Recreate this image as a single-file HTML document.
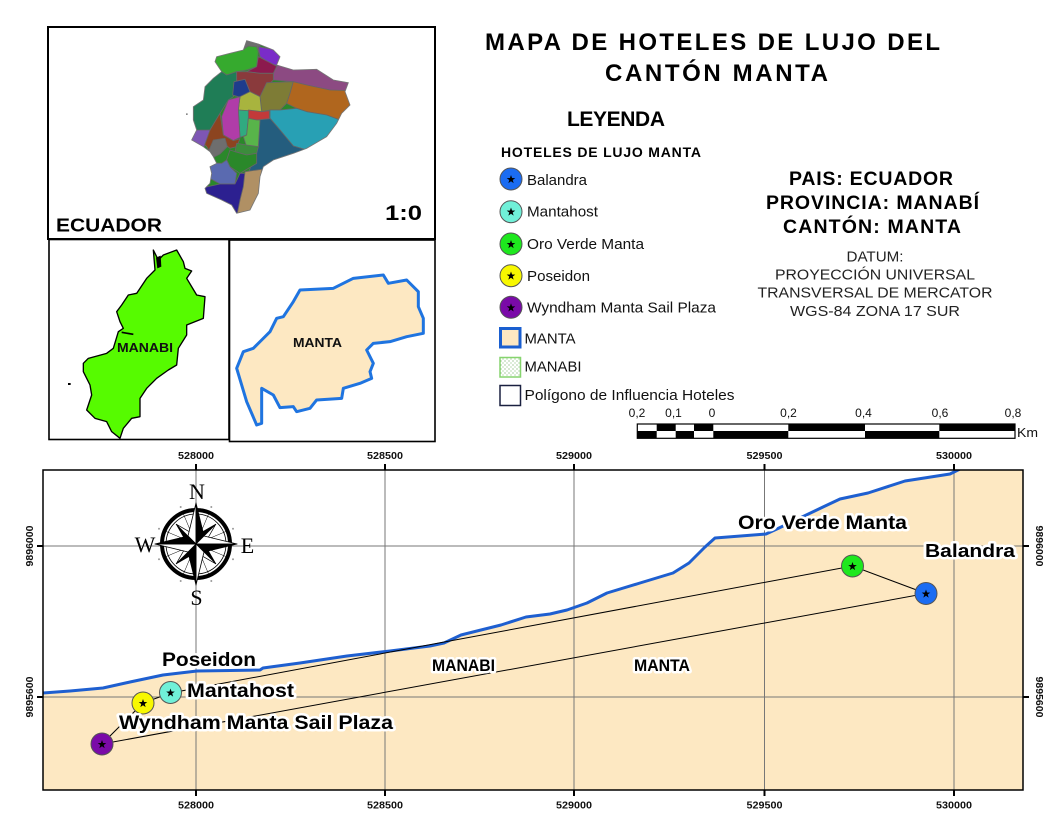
<!DOCTYPE html>
<html>
<head>
<meta charset="utf-8">
<style>
  html,body{margin:0;padding:0;background:#fff;}
  svg{display:block;}
  text{font-family:"Liberation Sans",Arial,sans-serif;}
  text.serif{font-family:"Liberation Serif","Times New Roman",serif;}
  .b{font-weight:bold;}
  .halo{paint-order:stroke;stroke:#fff;stroke-width:5;stroke-linejoin:round;}
</style>
</head>
<body>
<svg width="1056" height="816" viewBox="0 0 1056 816" xmlns="http://www.w3.org/2000/svg">
  <defs>
    <path id="star" d="M0,-4.5 L1.06,-1.46 L4.28,-1.39 L1.71,0.56 L2.65,3.64 L0,1.8 L-2.65,3.64 L-1.71,0.56 L-4.28,-1.39 L-1.06,-1.46 Z" fill="#000"/>
    <pattern id="dots" width="4" height="4" patternUnits="userSpaceOnUse">
      <rect width="4" height="4" fill="#fff"/>
      <rect x="0.5" y="0.5" width="1" height="1" fill="#5a9a4a"/>
      <rect x="2.5" y="2.5" width="1" height="1" fill="#7aba6a"/>
    </pattern>
    <clipPath id="ec">
      <path d="M620,62 L655,72 L700,90 L720,110 L710,135 L760,150 L830,148 L880,180 L925,188 L915,215 L930,255 L905,280 L890,310 L860,350 L800,385 L760,400 L700,420 L670,440 L660,470 L655,520 L630,570 L590,580 L575,555 L545,540 L500,520 L495,505 L510,490 L515,460 L510,440 L530,430 L520,410 L510,395 L490,380 L455,360 L470,330 L460,300 L460,260 L490,240 L495,200 L520,175 L545,155 L525,125 L530,110 L570,100 L610,90 Z"/>
    </clipPath>
    <clipPath id="mapclip">
      <rect x="43" y="470" width="980" height="320"/>
    </clipPath>
  </defs>

  <!-- ================= TOP-LEFT INSET (ECUADOR) ================= -->
  <rect x="48" y="27" width="387" height="212" fill="#fff" stroke="#000" stroke-width="2"/>
  <g transform="translate(40,20) scale(0.33333)">
    <g clip-path="url(#ec)" stroke="#666" stroke-width="2.5" stroke-linejoin="round">
      <rect x="400" y="40" width="560" height="560" fill="#2a882a" stroke="none"/>
      <polygon fill="#6e6e6e" points="600,50 660,50 660,95 600,95"/>
      <polygon fill="#36aa2e" points="520,110 570,95 610,88 625,78 650,80 655,95 650,140 620,150 590,155 560,165 545,155 520,125"/>
      <polygon fill="#7a2cc8" points="655,80 700,88 725,112 712,137 690,130 660,110"/>
      <polygon fill="#8c1a4e" points="655,110 690,128 712,140 700,160 660,160 620,155 650,140"/>
      <polygon fill="#8c4a82" points="712,135 760,148 830,146 880,178 935,186 920,215 870,210 800,195 760,185 700,180 700,160"/>
      <polygon fill="#1f7d56" points="545,155 560,165 590,155 590,180 580,230 565,240 540,280 510,330 450,335 440,300 440,255 480,235 490,200 515,170"/>
      <polygon fill="#8a3a3c" points="590,155 620,155 660,160 700,160 700,180 680,200 660,230 630,215 600,225 590,180"/>
      <polygon fill="#1e3c8c" points="582,185 615,178 630,215 600,232 578,225"/>
      <polygon fill="#7e7c36" points="680,188 760,185 750,220 740,250 720,270 690,270 665,275 660,230"/>
      <polygon fill="#b0661e" points="760,185 800,195 870,210 935,212 945,255 900,300 860,285 800,275 770,265 740,250 750,220"/>
      <polygon fill="#28a0b4" points="690,270 720,270 770,265 800,275 860,285 900,300 890,315 860,355 800,390 760,378 720,330 690,295"/>
      <polygon fill="#245d7e" points="650,300 690,295 720,330 760,378 800,390 760,405 700,425 670,445 662,475 620,472 640,420 655,380"/>
      <polygon fill="#a8b43e" points="600,230 630,215 660,230 665,275 630,275 595,270"/>
      <polygon fill="#c23a3a" points="625,270 665,275 688,272 688,296 650,300 625,295"/>
      <polygon fill="#30aa80" points="595,270 625,272 625,295 620,345 600,352"/>
      <polygon fill="#58b44a" points="625,295 650,300 660,300 655,380 620,380 610,350 620,345"/>
      <polygon fill="#b03ca8" points="565,240 600,230 595,270 600,352 580,362 550,345 545,290"/>
      <polygon fill="#8c4420" points="540,280 550,345 580,362 600,356 590,380 570,385 550,370 540,395 520,412 500,380 490,370 510,330"/>
      <polygon fill="#7e56b4" points="440,360 455,330 510,330 495,372 490,390"/>
      <polygon fill="#6e6e6e" points="520,360 555,355 562,380 540,402 520,412 505,395"/>
      <polygon fill="#3c8c3c" points="590,370 620,375 655,380 650,400 620,405 585,395"/>
      <polygon fill="#2a882a" points="570,390 585,395 620,405 650,400 650,430 620,448 600,460 570,440 560,420"/>
      <polygon fill="#5a6ab0" points="505,428 545,430 560,420 570,440 590,460 585,492 540,492 500,470"/>
      <polygon fill="#2c2090" points="480,505 540,492 585,492 600,460 615,460 610,520 600,560 590,590 570,560 540,545 480,525"/>
      <polygon fill="#b09064" points="615,455 665,448 665,470 660,520 635,575 590,590 600,540 610,500"/>
    </g>
    <path d="M620,62 L655,72 L700,90 L720,110 L710,135 L760,150 L830,148 L880,180 L925,188 L915,215 L930,255 L905,280 L890,310 L860,350 L800,385 L760,400 L700,420 L670,440 L660,470 L655,520 L630,570 L590,580 L575,555 L545,540 L500,520 L495,505 L510,490 L515,460 L510,440 L530,430 L520,410 L510,395 L490,380 L455,360 L470,330 L460,300 L460,260 L490,240 L495,200 L520,175 L545,155 L525,125 L530,110 L570,100 L610,90 Z" fill="none" stroke="#777" stroke-width="2.5"/>
    <rect x="438" y="280" width="5" height="5" fill="#888"/>
  </g>
  <text class="b" x="56" y="231.5" font-size="18" textLength="106" lengthAdjust="spacingAndGlyphs" fill="#000">ECUADOR</text>
  <text class="b" x="385" y="220" font-size="21" textLength="37" lengthAdjust="spacingAndGlyphs" fill="#000">1:0</text>

  <!-- ================= MANABI INSET ================= -->
  <rect x="49" y="239.5" width="180" height="200" fill="#fff" stroke="#000" stroke-width="1.6"/>
  <g transform="translate(40,235) scale(0.33333)">
    <path d="M340,45 L355,75 L370,60 L410,45 L430,80 L435,100 L455,108 L440,130 L470,180 L495,185 L490,250 L440,270 L440,300 L415,340 L410,390 L385,405 L350,430 L320,460 L300,490 L300,545 L275,550 L250,580 L240,610 L215,590 L200,560 L165,550 L140,525 L155,480 L150,450 L130,410 L130,385 L145,370 L200,355 L220,340 L235,290 L250,280 L240,260 L230,230 L245,210 L265,180 L290,175 L320,130 L345,105 Z" fill="#56fb00" stroke="#000" stroke-width="4" stroke-linejoin="round"/>
    <polygon points="348,68 362,62 364,95 352,100" fill="#000"/>
    <path d="M245,292 L280,298" stroke="#000" stroke-width="5"/>
    <rect x="84" y="444" width="8" height="6" fill="#000"/>
  </g>
  <text class="b" x="117" y="352" font-size="12.5" textLength="56" lengthAdjust="spacingAndGlyphs" fill="#111">MANABI</text>

  <!-- ================= MANTA INSET ================= -->
  <rect x="229.5" y="240" width="205.5" height="201.5" fill="#fff" stroke="#000" stroke-width="1.6"/>
  <g transform="translate(40,235) scale(0.33333)">
    <path d="M590,400 L610,350 L640,340 L665,315 L690,290 L710,250 L730,245 L760,200 L780,165 L880,160 L940,130 L1030,120 L1045,145 L1100,135 L1135,170 L1135,215 L1150,250 L1150,295 L1100,305 L1050,320 L1000,325 L980,345 L1000,385 L990,410 L995,430 L960,445 L910,460 L905,490 L830,495 L810,520 L770,530 L760,515 L720,518 L700,480 L665,460 L665,565 L650,570 L620,500 Z" fill="#fde8c2" stroke="#1f74e0" stroke-width="9" stroke-linejoin="round"/>
  </g>
  <text class="b" x="293" y="347" font-size="12.5" textLength="49" lengthAdjust="spacingAndGlyphs" fill="#111">MANTA</text>

  <!-- ================= TITLE ================= -->
  <text class="b" x="485" y="50" font-size="24" textLength="455" lengthAdjust="spacing" fill="#000">MAPA DE HOTELES DE LUJO DEL</text>
  <text class="b" x="605" y="81" font-size="24" textLength="223" lengthAdjust="spacing" fill="#000">CANTÓN MANTA</text>

  <!-- ================= LEGEND ================= -->
  <text class="b" x="567" y="126" font-size="21" textLength="98" lengthAdjust="spacing" fill="#000">LEYENDA</text>
  <text class="b" x="501" y="157" font-size="14" textLength="200" lengthAdjust="spacing" fill="#000">HOTELES DE LUJO MANTA</text>

  <g stroke="#555" stroke-width="1">
    <circle cx="511" cy="179" r="11" fill="#1b6cf2"/>
    <circle cx="511" cy="211.7" r="11" fill="#70f0d8"/>
    <circle cx="511" cy="244" r="11" fill="#1ee81e"/>
    <circle cx="511" cy="275.7" r="11" fill="#f8f800"/>
    <circle cx="511" cy="307.3" r="11" fill="#7a0aa8"/>
  </g>
  <use href="#star" x="511" y="179.5"/>
  <use href="#star" x="511" y="212"/>
  <use href="#star" x="511" y="244.5"/>
  <use href="#star" x="511" y="276"/>
  <use href="#star" x="511" y="307.8"/>
  <g font-size="15" fill="#111">
    <text x="527" y="185" textLength="60" lengthAdjust="spacingAndGlyphs">Balandra</text>
    <text x="527" y="216.7" textLength="71" lengthAdjust="spacingAndGlyphs">Mantahost</text>
    <text x="527" y="249" textLength="117" lengthAdjust="spacingAndGlyphs">Oro Verde Manta</text>
    <text x="527" y="281" textLength="63" lengthAdjust="spacingAndGlyphs">Poseidon</text>
    <text x="527" y="312.7" textLength="189" lengthAdjust="spacingAndGlyphs">Wyndham Manta Sail Plaza</text>
    <text x="524.5" y="343.3" textLength="51" lengthAdjust="spacingAndGlyphs">MANTA</text>
    <text x="524.5" y="371.7" textLength="57" lengthAdjust="spacingAndGlyphs">MANABI</text>
    <text x="524.5" y="400" textLength="210" lengthAdjust="spacingAndGlyphs">Polígono de Influencia Hoteles</text>
  </g>
  <rect x="500.5" y="328.5" width="19.5" height="18.5" fill="#fde8c2" stroke="#1a5fd0" stroke-width="3"/>
  <rect x="500" y="357.5" width="20.5" height="19.5" fill="url(#dots)" stroke="#86d46e" stroke-width="1.5"/>
  <rect x="500" y="385.5" width="20.5" height="20" fill="#fff" stroke="#1a2040" stroke-width="1.5"/>

  <!-- ================= RIGHT INFO BLOCK ================= -->
  <g class="b" font-size="19.5" fill="#000" text-anchor="middle">
    <text x="871" y="185" textLength="164" lengthAdjust="spacing">PAIS: ECUADOR</text>
    <text x="872.5" y="209" textLength="213" lengthAdjust="spacing">PROVINCIA: MANABÍ</text>
    <text x="872" y="233" textLength="178" lengthAdjust="spacing">CANTÓN: MANTA</text>
  </g>
  <g font-size="15" fill="#222" text-anchor="middle">
    <text x="875" y="261.5" textLength="57" lengthAdjust="spacingAndGlyphs">DATUM:</text>
    <text x="875" y="279.5" textLength="200" lengthAdjust="spacingAndGlyphs">PROYECCIÓN UNIVERSAL</text>
    <text x="875" y="297.7" textLength="235" lengthAdjust="spacingAndGlyphs">TRANSVERSAL DE MERCATOR</text>
    <text x="875" y="316" textLength="170" lengthAdjust="spacingAndGlyphs">WGS-84 ZONA 17 SUR</text>
  </g>

  <!-- ================= SCALE BAR ================= -->
  <g font-size="12" fill="#111" text-anchor="middle">
    <text x="637" y="417">0,2</text>
    <text x="673.5" y="417">0,1</text>
    <text x="712" y="417">0</text>
    <text x="788.5" y="417">0,2</text>
    <text x="863.5" y="417">0,4</text>
    <text x="940" y="417">0,6</text>
    <text x="1013" y="417">0,8</text>
  </g>
  <g>
    <rect x="637.3" y="424" width="377.7" height="14.3" fill="#fff"/>
    <rect x="656.7" y="424" width="19" height="7" fill="#000"/>
    <rect x="694" y="424" width="19.3" height="7" fill="#000"/>
    <rect x="788.3" y="424" width="76.7" height="7" fill="#000"/>
    <rect x="939.3" y="424" width="75.7" height="7" fill="#000"/>
    <rect x="637.3" y="431" width="19.4" height="7.3" fill="#000"/>
    <rect x="675.7" y="431" width="18.3" height="7.3" fill="#000"/>
    <rect x="713.3" y="431" width="75" height="7.3" fill="#000"/>
    <rect x="865" y="431" width="74.3" height="7.3" fill="#000"/>
    <rect x="637.3" y="424" width="377.7" height="14.3" fill="none" stroke="#000" stroke-width="1.2"/>
  </g>
  <text x="1017" y="437" font-size="13" fill="#111" textLength="21" lengthAdjust="spacingAndGlyphs">Km</text>

  <!-- ================= MAIN MAP ================= -->
  <g clip-path="url(#mapclip)">
    <rect x="43" y="470" width="980" height="320" fill="#fff"/>
    <path d="M43,693 L70,691 L103,688 L130,682 L163,675 L197,671 L260,670 L263,668 L300,663 L347,656 L390,651 L430,646 L444,643 L461,635 L501,625 L526,617 L550,614 L567,610 L587,603 L607,593 L640,583 L673,573 L689,563 L705,547 L715,538 L766,534 L779,528 L800,518 L823,507 L840,499 L868,493 L905,481 L950,474 L960,469 L1030,465 L1030,800 L40,800 L40,693 Z" fill="#fde8c2"/>
    <g stroke="#777" stroke-width="1">
      <line x1="196" y1="470" x2="196" y2="790"/>
      <line x1="385" y1="470" x2="385" y2="790"/>
      <line x1="574" y1="470" x2="574" y2="790"/>
      <line x1="764.5" y1="470" x2="764.5" y2="790"/>
      <line x1="954" y1="470" x2="954" y2="790"/>
      <line x1="43" y1="546" x2="1023" y2="546"/>
      <line x1="43" y1="697" x2="1023" y2="697"/>
    </g>
    <path d="M43,693 L70,691 L103,688 L130,682 L163,675 L197,671 L260,670 L263,668 L300,663 L347,656 L390,651 L430,646 L444,643 L461,635 L501,625 L526,617 L550,614 L567,610 L587,603 L607,593 L640,583 L673,573 L689,563 L705,547 L715,538 L766,534 L779,528 L800,518 L823,507 L840,499 L868,493 L905,481 L950,474 L960,469" fill="none" stroke="#1e5fd0" stroke-width="3" stroke-linejoin="round"/>
    <polygon points="102,744 143,703 170.5,693 852.5,566 926,593.5" fill="none" stroke="#000" stroke-width="1"/>
    <g stroke="#555" stroke-width="1">
      <circle cx="926" cy="593.5" r="11" fill="#1b6cf2"/>
      <circle cx="852.5" cy="566" r="11" fill="#1ee81e"/>
      <circle cx="170.5" cy="692.5" r="11" fill="#70f0d8"/>
      <circle cx="143" cy="703" r="11" fill="#f8f800"/>
      <circle cx="102" cy="744" r="11" fill="#7a0aa8"/>
    </g>
    <use href="#star" x="926" y="594"/>
    <use href="#star" x="852.5" y="566.5"/>
    <use href="#star" x="170.5" y="693"/>
    <use href="#star" x="143" y="703.5"/>
    <use href="#star" x="102" y="744.5"/>
    <g class="b halo" fill="#000">
      <text class="b halo" x="162" y="666" font-size="19.5" textLength="94" lengthAdjust="spacingAndGlyphs">Poseidon</text>
      <text class="b halo" x="187" y="697" font-size="19.5" textLength="107" lengthAdjust="spacingAndGlyphs">Mantahost</text>
      <text class="b halo" x="119" y="729" font-size="19.5" textLength="274" lengthAdjust="spacingAndGlyphs">Wyndham Manta Sail Plaza</text>
      <text class="b halo" x="738" y="529" font-size="19.5" textLength="169" lengthAdjust="spacingAndGlyphs">Oro Verde Manta</text>
      <text class="b halo" x="925" y="557" font-size="18.5" textLength="90" lengthAdjust="spacingAndGlyphs">Balandra</text>
      <text class="b halo" x="432" y="671" font-size="16.5" textLength="63" lengthAdjust="spacingAndGlyphs">MANABI</text>
      <text class="b halo" x="634" y="671" font-size="16.5" textLength="56" lengthAdjust="spacingAndGlyphs">MANTA</text>
    </g>

    <!-- compass rose -->
    <g transform="translate(196,544)">
      <circle r="34" fill="none" stroke="#000" stroke-width="4"/>
      <circle r="30" fill="none" stroke="#000" stroke-width="0.8"/>
      <g fill="#999">
        <circle cx="15.3" cy="-37" r="1"/><circle cx="37" cy="-15.3" r="1"/>
        <circle cx="37" cy="15.3" r="1"/><circle cx="15.3" cy="37" r="1"/>
        <circle cx="-15.3" cy="37" r="1"/><circle cx="-37" cy="15.3" r="1"/>
        <circle cx="-37" cy="-15.3" r="1"/><circle cx="-15.3" cy="-37" r="1"/>
      </g>
      <g stroke="#000" stroke-width="0.5">
        <line x1="0" y1="0" x2="13" y2="-31"/><line x1="0" y1="0" x2="31" y2="-13"/>
        <line x1="0" y1="0" x2="31" y2="13"/><line x1="0" y1="0" x2="13" y2="31"/>
        <line x1="0" y1="0" x2="-13" y2="31"/><line x1="0" y1="0" x2="-31" y2="13"/>
        <line x1="0" y1="0" x2="-31" y2="-13"/><line x1="0" y1="0" x2="-13" y2="-31"/>
      </g>
      <g stroke="#000" stroke-width="0.7" stroke-linejoin="round">
        <g transform="rotate(45)"><path d="M0,0 L0,-28 L-6,-6 Z" fill="#000"/><path d="M0,0 L0,-28 L6,-6 Z" fill="#fff"/></g>
        <g transform="rotate(135)"><path d="M0,0 L0,-28 L-6,-6 Z" fill="#000"/><path d="M0,0 L0,-28 L6,-6 Z" fill="#fff"/></g>
        <g transform="rotate(225)"><path d="M0,0 L0,-28 L-6,-6 Z" fill="#000"/><path d="M0,0 L0,-28 L6,-6 Z" fill="#fff"/></g>
        <g transform="rotate(315)"><path d="M0,0 L0,-28 L-6,-6 Z" fill="#000"/><path d="M0,0 L0,-28 L6,-6 Z" fill="#fff"/></g>
      </g>
      <g stroke="#000" stroke-width="0.8" stroke-linejoin="round">
        <g><path d="M0,0 L0,-41 L-8,-8 Z" fill="#fff"/><path d="M0,0 L0,-41 L8,-8 Z" fill="#000"/></g>
        <g transform="rotate(90)"><path d="M0,0 L0,-41 L-8,-8 Z" fill="#fff"/><path d="M0,0 L0,-41 L8,-8 Z" fill="#000"/></g>
        <g transform="rotate(180)"><path d="M0,0 L0,-41 L-8,-8 Z" fill="#fff"/><path d="M0,0 L0,-41 L8,-8 Z" fill="#000"/></g>
        <g transform="rotate(270)"><path d="M0,0 L0,-41 L-8,-8 Z" fill="#fff"/><path d="M0,0 L0,-41 L8,-8 Z" fill="#000"/></g>
      </g>
    </g>
    <text class="serif" style="font-family:'Liberation Serif',serif" x="197" y="499" font-size="22" fill="#000" text-anchor="middle">N</text>
    <text class="serif" style="font-family:'Liberation Serif',serif" x="196.5" y="605" font-size="22" fill="#000" text-anchor="middle">S</text>
    <text class="serif" style="font-family:'Liberation Serif',serif" x="145" y="552" font-size="22" fill="#000" text-anchor="middle">W</text>
    <text class="serif" style="font-family:'Liberation Serif',serif" x="247.5" y="553" font-size="22" fill="#000" text-anchor="middle">E</text>
  </g>
  <rect x="43" y="470" width="980" height="320" fill="none" stroke="#000" stroke-width="1.5"/>

  <!-- ticks -->
  <g stroke="#000" stroke-width="2">
    <line x1="196" y1="464" x2="196" y2="470"/>
    <line x1="385" y1="464" x2="385" y2="470"/>
    <line x1="574" y1="464" x2="574" y2="470"/>
    <line x1="764.5" y1="464" x2="764.5" y2="470"/>
    <line x1="954" y1="464" x2="954" y2="470"/>
    <line x1="196" y1="790" x2="196" y2="796"/>
    <line x1="385" y1="790" x2="385" y2="796"/>
    <line x1="574" y1="790" x2="574" y2="796"/>
    <line x1="764.5" y1="790" x2="764.5" y2="796"/>
    <line x1="954" y1="790" x2="954" y2="796"/>
    <line x1="37" y1="546" x2="43" y2="546"/>
    <line x1="37" y1="697" x2="43" y2="697"/>
    <line x1="1023" y1="546" x2="1029" y2="546"/>
    <line x1="1023" y1="697" x2="1029" y2="697"/>
  </g>

  <!-- axis labels -->
  <g class="b" font-size="10.5" fill="#111" text-anchor="middle">
    <text x="196" y="459" textLength="36" lengthAdjust="spacingAndGlyphs">528000</text>
    <text x="385" y="459" textLength="36" lengthAdjust="spacingAndGlyphs">528500</text>
    <text x="574" y="459" textLength="36" lengthAdjust="spacingAndGlyphs">529000</text>
    <text x="764.5" y="459" textLength="36" lengthAdjust="spacingAndGlyphs">529500</text>
    <text x="954" y="459" textLength="36" lengthAdjust="spacingAndGlyphs">530000</text>
    <text x="196" y="808.5" textLength="36" lengthAdjust="spacingAndGlyphs">528000</text>
    <text x="385" y="808.5" textLength="36" lengthAdjust="spacingAndGlyphs">528500</text>
    <text x="574" y="808.5" textLength="36" lengthAdjust="spacingAndGlyphs">529000</text>
    <text x="764.5" y="808.5" textLength="36" lengthAdjust="spacingAndGlyphs">529500</text>
    <text x="954" y="808.5" textLength="36" lengthAdjust="spacingAndGlyphs">530000</text>
    <text transform="translate(33,546) rotate(-90)" x="0" y="0" textLength="41" lengthAdjust="spacingAndGlyphs">9896000</text>
    <text transform="translate(33,697) rotate(-90)" x="0" y="0" textLength="41" lengthAdjust="spacingAndGlyphs">9895600</text>
    <text transform="translate(1036,546) rotate(90)" x="0" y="0" textLength="41" lengthAdjust="spacingAndGlyphs">9896000</text>
    <text transform="translate(1036,697) rotate(90)" x="0" y="0" textLength="41" lengthAdjust="spacingAndGlyphs">9895600</text>
  </g>
</svg>
</body>
</html>
